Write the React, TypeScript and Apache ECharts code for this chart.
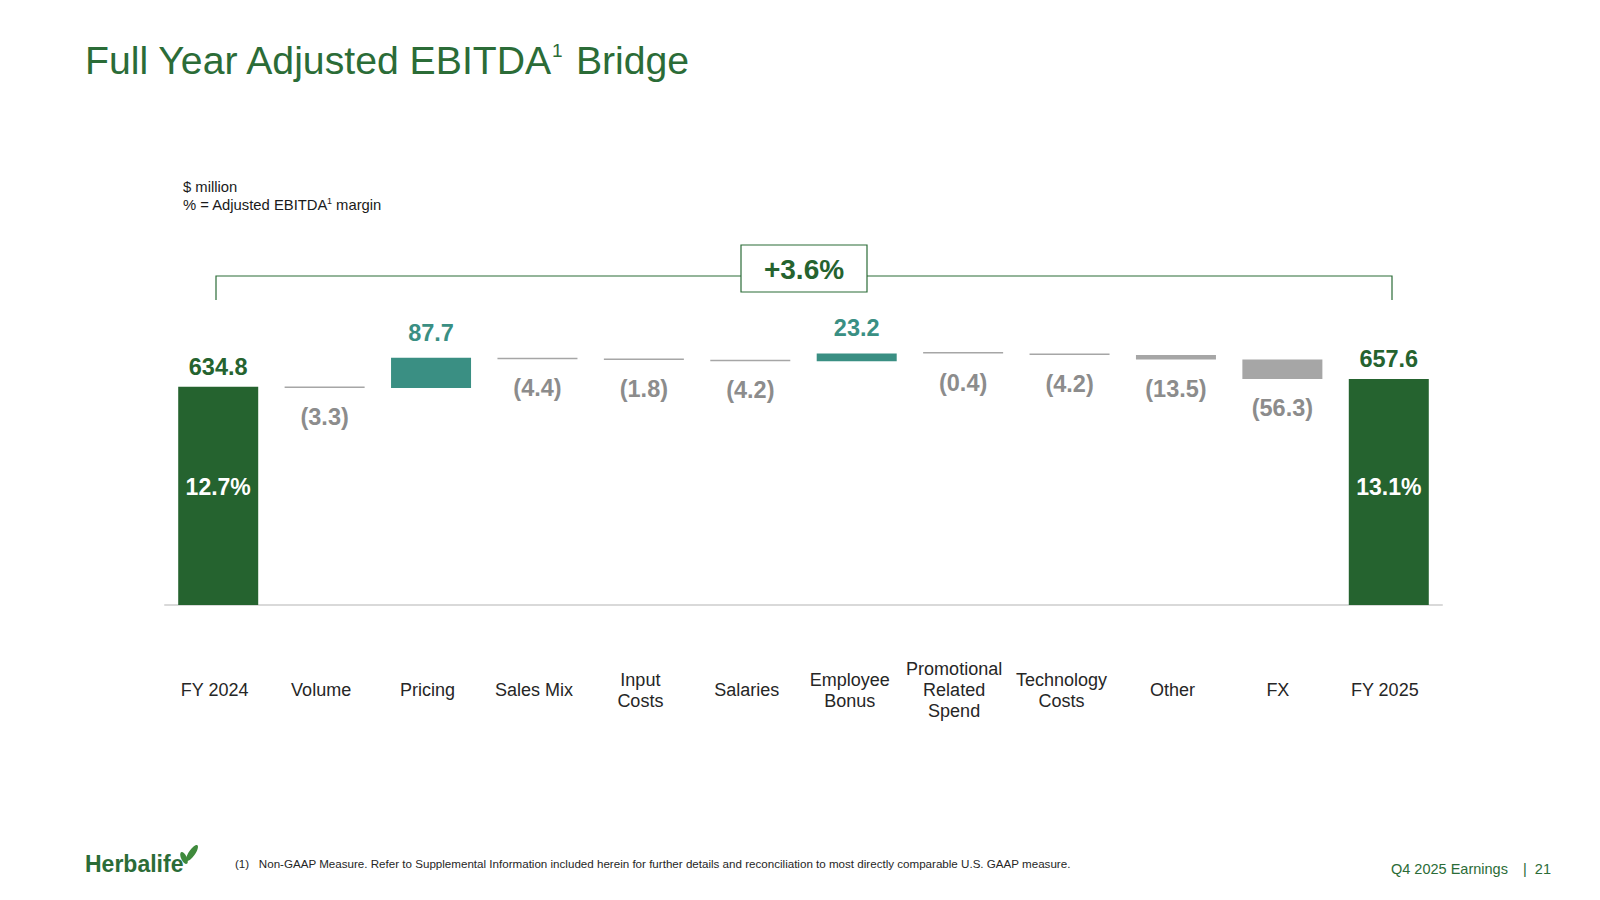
import React, { useEffect, useRef } from "react";
import * as echarts from "echarts";

const categories = [
  "FY 2024",
  "Volume",
  "Pricing",
  "Sales Mix",
  "Input\nCosts",
  "Salaries",
  "Employee\nBonus",
  "Promotional\nRelated\nSpend",
  "Technology\nCosts",
  "Other",
  "FX",
  "FY 2025",
];
const values = [634.8, -3.3, 87.7, -4.4, -1.8, -4.2, 23.2, -0.4, -4.2, -13.5, -56.3, 657.6];
const isTotal = [true, false, false, false, false, false, false, false, false, false, false, true];
const marginLabels = ["12.7%", "", "", "", "", "", "", "", "", "", "", "13.1%"];
const bracketLabel = "+3.6%";

// styling only: horizontal nudge (px, leftwards) of each category label
const labelNudge = [7, 7, 7, 7, 7, 7, 14, 18, 16, 7, 9, 8];
// styling only: vertical offset of the margin label inside each total bar
const marginOffsetY = [-9, 0, 0, 0, 0, 0, 0, 0, 0, 0, 0, -5];

const GREEN = "#25632f";
const TITLE_GREEN = "#2b6c37";
const TEAL = "#3a8f83";
const GRAY_BAR = "#a6a6a6";
const GRAY_TEXT = "#8c8c8c";
const FONT = "'Liberation Sans', Arial, sans-serif";

export default function App() {
  const ref = useRef<HTMLDivElement>(null);

  useEffect(() => {
    if (!ref.current) return;
    const chart = echarts.init(ref.current, undefined, { renderer: "svg" });

    const base: (number | string)[] = [];
    const delta: any[] = [];
    let running = 0;
    values.forEach((v, i) => {
      if (isTotal[i]) {
        base.push(0);
        running = v;
        delta.push({
          value: v,
          itemStyle: { color: GREEN },
          label: {
            show: true,
            position: "top",
            distance: 8,
            color: GREEN,
            formatter: v.toFixed(1),
          },
        });
      } else if (v >= 0) {
        base.push(running);
        running += v;
        delta.push({
          value: v,
          itemStyle: { color: TEAL },
          label: {
            show: true,
            position: "top",
            distance: 13,
            color: TEAL,
            formatter: v.toFixed(1),
          },
        });
      } else {
        running += v;
        base.push(running);
        delta.push({
          value: -v,
          itemStyle: { color: GRAY_BAR },
          label: {
            show: true,
            position: "bottom",
            distance: 17,
            color: GRAY_TEXT,
            formatter: "(" + Math.abs(v).toFixed(1) + ")",
          },
        });
      }
    });
    const marginData = values.map((v, i) =>
      isTotal[i] ? { value: v, label: { offset: [0, marginOffsetY[i]] } } : "-"
    );
    const categoryData = categories.map((c, i) => ({
      value: c,
      textStyle: {
        padding: [0, labelNudge[i], 0, 0],
        verticalAlign: "middle",
        fontSize: 18,
        lineHeight: 21,
        color: "#262626",
        fontFamily: FONT,
      },
    }));

    const option: any = {
      animation: false,
      backgroundColor: "#ffffff",
      textStyle: { fontFamily: FONT },
      grid: { left: 165, right: 158, top: 330, bottom: 295, containLabel: false },
      xAxis: {
        type: "category",
        data: categoryData,
        axisLine: { show: true, lineStyle: { color: "#d9d9d9", width: 2 } },
        axisTick: { show: false },
        axisLabel: {
          margin: 85,
          verticalAlign: "middle",
          color: "#262626",
          fontSize: 18,
          lineHeight: 21,
          fontFamily: FONT,
          interval: 0,
        },
      },
      yAxis: {
        type: "value",
        min: 0,
        max: 800,
        show: false,
        splitLine: { show: false },
      },
      series: [
        {
          name: "base",
          type: "bar",
          stack: "wf",
          barWidth: 80,
          itemStyle: { color: "transparent" },
          emphasis: { disabled: true },
          data: base,
        },
        {
          name: "delta",
          type: "bar",
          stack: "wf",
          barWidth: 80,
          barMinHeight: 1.5,
          emphasis: { disabled: true },
          label: {
            fontSize: 23.5,
            fontWeight: "bold",
            fontFamily: FONT,
          },
          data: delta,
        },
        {
          name: "margin",
          type: "bar",
          barWidth: 80,
          barGap: "-100%",
          itemStyle: { color: "transparent" },
          emphasis: { disabled: true },
          label: {
            show: true,
            position: "inside",
            color: "#ffffff",
            fontSize: 23,
            fontWeight: "bold",
            fontFamily: FONT,
            formatter: (p: any) => marginLabels[p.dataIndex],
          },
          data: marginData,
        },
      ],
      graphic: [
        {
          type: "text",
          x: 85,
          y: 60.5,
          style: {
            text: "Full Year Adjusted EBITDA",
            fill: TITLE_GREEN,
            fontSize: 39.2,
            fontFamily: FONT,
            verticalAlign: "middle",
            align: "left",
          },
        },
        {
          type: "text",
          x: 552,
          y: 50,
          style: {
            text: "1",
            fill: TITLE_GREEN,
            fontSize: 19,
            fontFamily: FONT,
            verticalAlign: "middle",
            align: "left",
          },
        },
        {
          type: "text",
          x: 565,
          y: 60.5,
          style: {
            text: " Bridge",
            fill: TITLE_GREEN,
            fontSize: 39.2,
            fontFamily: FONT,
            verticalAlign: "middle",
            align: "left",
          },
        },
        {
          type: "text",
          x: 183,
          y: 187,
          style: {
            text: "$ million",
            fill: "#1a1a1a",
            fontSize: 14.8,
            fontFamily: FONT,
            verticalAlign: "middle",
          },
        },
        {
          type: "text",
          x: 183,
          y: 205,
          style: {
            text: "% = Adjusted EBITDA",
            fill: "#1a1a1a",
            fontSize: 14.8,
            fontFamily: FONT,
            verticalAlign: "middle",
          },
        },
        {
          type: "text",
          x: 327,
          y: 201,
          style: {
            text: "1",
            fill: "#1a1a1a",
            fontSize: 9,
            fontFamily: FONT,
            verticalAlign: "middle",
          },
        },
        {
          type: "text",
          x: 332,
          y: 205,
          style: {
            text: " margin",
            fill: "#1a1a1a",
            fontSize: 14.8,
            fontFamily: FONT,
            verticalAlign: "middle",
          },
        },
        {
          type: "polyline",
          shape: { points: [[216, 300], [216, 276], [1392, 276], [1392, 300]] },
          style: { stroke: TITLE_GREEN, lineWidth: 1.2, fill: "none" },
        },
        {
          type: "rect",
          shape: { x: 741, y: 245, width: 126, height: 47 },
          style: { fill: "#ffffff", stroke: TITLE_GREEN, lineWidth: 1.2 },
        },
        {
          type: "text",
          x: 804,
          y: 269,
          style: {
            text: bracketLabel,
            fill: GREEN,
            fontSize: 28,
            fontWeight: "bold",
            fontFamily: FONT,
            align: "center",
            verticalAlign: "middle",
          },
        },
        {
          type: "text",
          x: 85,
          y: 864,
          style: {
            text: "Herbalife",
            fill: TITLE_GREEN,
            fontSize: 23,
            fontWeight: "bold",
            fontFamily: FONT,
            verticalAlign: "middle",
          },
        },
        {
          type: "ellipse",
          x: 184,
          y: 858,
          rotation: 0.45,
          shape: { cx: 0, cy: 0, rx: 2.8, ry: 6.5 },
          style: { fill: "#3f8a3c" },
        },
        {
          type: "ellipse",
          x: 192,
          y: 853,
          rotation: -0.6,
          shape: { cx: 0, cy: 0, rx: 3.2, ry: 9.5 },
          style: { fill: "#3f8a3c" },
        },
        {
          type: "text",
          x: 235,
          y: 863,
          style: {
            text: "(1)   Non-GAAP Measure. Refer to Supplemental Information included herein for further details and reconciliation to most directly comparable U.S. GAAP measure.",
            fill: "#262626",
            fontSize: 11.6,
            fontFamily: FONT,
            verticalAlign: "middle",
          },
        },
        {
          type: "text",
          x: 1391,
          y: 869,
          style: {
            text: "Q4 2025 Earnings",
            fill: TITLE_GREEN,
            fontSize: 14.5,
            fontFamily: FONT,
            verticalAlign: "middle",
          },
        },
        {
          type: "text",
          x: 1523,
          y: 869,
          style: {
            text: "|  21",
            fill: TITLE_GREEN,
            fontSize: 14.5,
            fontFamily: FONT,
            verticalAlign: "middle",
          },
        },
      ],
    };

    chart.setOption(option);
    return () => chart.dispose();
  }, []);

  return (
    <div
      ref={ref}
      style={{ position: "fixed", left: 0, top: 0, width: 1600, height: 900, background: "#fff" }}
    />
  );
}
